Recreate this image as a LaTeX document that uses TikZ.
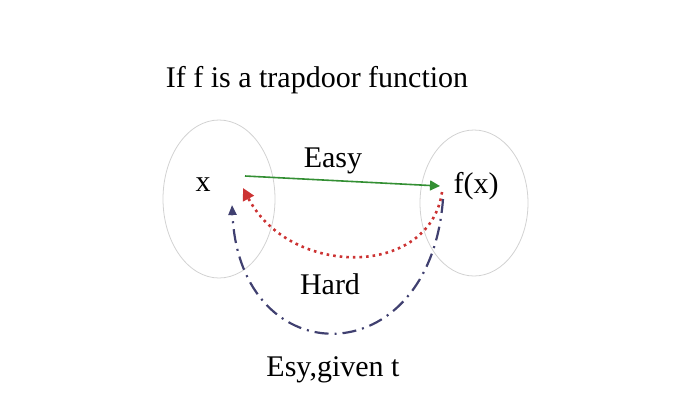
\documentclass[tikz,border=0pt]{standalone}
\usepackage{fontspec}
\setmainfont{Liberation Serif}
\usetikzlibrary{arrows.meta}

\begin{document}
\begin{tikzpicture}[x=0.5pt,y=-0.5pt,
  lbl/.style={font=\fontsize{15}{18}\selectfont,inner sep=1pt},
  setring/.style={draw=gray!35,thin},
  easyline/.style={draw=green!45!black!80,thick,-{Triangle[length=5pt,width=5pt]}},
  hardline/.style={draw=red!75!black!80,line width=1.3pt,dotted,-{Triangle[length=6pt,width=6pt]}},
  trapline/.style={draw=blue!25!black!75,line width=1.1pt,dash pattern=on 7pt off 3pt on 1pt off 3pt,-{Triangle[length=5pt,width=4pt]}}]
\useasboundingbox (0,0) rectangle (690,397);
\draw[setring] (219,199) ellipse [x radius=56,y radius=79];
\draw[setring] (474,203) ellipse [x radius=54,y radius=73];
\node[lbl] (title) at (317,80) {If f is a trapdoor function};
\node[lbl] (x) at (203,185) {x};
\node[lbl] (fx) at (476,186) {f(x)};
\node[lbl] (easy) at (333,161) {Easy};
\node[lbl] (hard) at (330,284) {Hard};
\node[lbl] (trap) at (333,370) {Esy,given t};
% arrow ends
\coordinate (xe) at (245,176);
\coordinate (fe) at (440,186);
\coordinate (fh) at (442,192);
\coordinate (xh) at (243,188);
\coordinate (ft) at (443,199);
\coordinate (xt) at (232,205);
\draw[easyline] (xe) -- (fe);
\draw[hardline] (fh) .. controls (430,278) and (290,278) .. (xh);
\draw[trapline] (ft) .. controls (430,376) and (240,376) .. (xt);
\end{tikzpicture}
\end{document}
